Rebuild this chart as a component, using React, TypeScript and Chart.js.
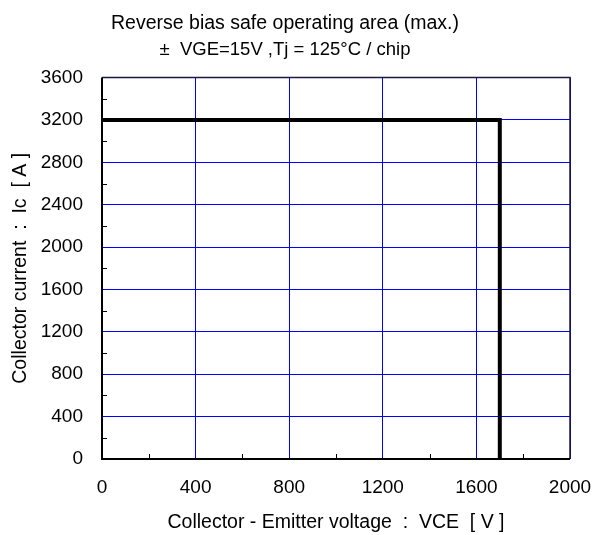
import React, { useEffect, useRef } from "react";
import { Chart, registerables } from "chart.js";

Chart.register(...registerables);

// Data
const vceValues = [0, 1700, 1700];
const icValues = [3200, 3200, 0];
const xTickLabels = [0, 400, 800, 1200, 1600, 2000];
const yTickLabels = [0, 400, 800, 1200, 1600, 2000, 2400, 2800, 3200, 3600];
const xMinorTicks = [200, 600, 1000, 1400, 1800];
const yMinorTicks = [200, 600, 1000, 1400, 1800, 2200, 2600, 3000, 3400];

const titleText = "Reverse bias safe operating area (max.)";
const subtitleText = "±  VGE=15V ,Tj = 125°C / chip";
const xTitle = "Collector - Emitter voltage  :  VCE  [ V ]";
const yTitle = "Collector current  :  Ic  [ A ]";

const FONT = "Arial, 'Liberation Sans', sans-serif";
const GRID_BLUE = "#0000ff";

const framePlugin = {
  id: "frame",
  afterDatasetsDraw(chart: any) {
    const { ctx, chartArea, scales } = chart;
    const { left, right, top, bottom } = chartArea;
    ctx.save();
    // minor ticks (inside)
    ctx.strokeStyle = "#000";
    ctx.lineWidth = 1;
    ctx.beginPath();
    for (const v of xMinorTicks) {
      const x = Math.round(scales.x.getPixelForValue(v)) + 0.5;
      ctx.moveTo(x, bottom);
      ctx.lineTo(x, bottom - 5);
    }
    for (const v of yMinorTicks) {
      const y = Math.round(scales.y.getPixelForValue(v)) + 0.5;
      ctx.moveTo(left, y);
      ctx.lineTo(left + 5, y);
    }
    ctx.stroke();
    // frame: top & right
    ctx.strokeStyle = "#1a1a40";
    ctx.lineWidth = 1.5;
    ctx.beginPath();
    ctx.moveTo(left, top);
    ctx.lineTo(right, top);
    ctx.lineTo(right, bottom);
    ctx.stroke();
    // left & bottom
    ctx.strokeStyle = "#000";
    ctx.lineWidth = 2;
    ctx.beginPath();
    ctx.moveTo(left, top);
    ctx.lineTo(left, bottom);
    ctx.lineTo(right, bottom);
    ctx.stroke();
    ctx.restore();
  },
};

export default function App() {
  const canvasRef = useRef<HTMLCanvasElement | null>(null);

  useEffect(() => {
    if (!canvasRef.current) return;
    const chart = new Chart(canvasRef.current, {
      type: "line",
      data: {
        datasets: [
          {
            data: vceValues.map((x, i) => ({ x, y: icValues[i] })),
            borderColor: "#000",
            borderWidth: 4,
            pointRadius: 0,
            fill: false,
            tension: 0,
            borderCapStyle: "butt",
            borderJoinStyle: "miter",
          },
        ],
      },
      options: {
        animation: false,
        responsive: false,
        maintainAspectRatio: false,
        layout: { padding: { left: 0, right: 40, top: 0, bottom: 0 } },
        plugins: {
          legend: { display: false },
          tooltip: { enabled: false },
          title: {
            display: true,
            text: titleText,
            color: "#000",
            font: { family: FONT, size: 19.5, weight: "normal" },
            padding: { top: 11.5, bottom: 4 },
          },
          subtitle: {
            display: true,
            text: subtitleText,
            color: "#000",
            font: { family: FONT, size: 18.5, weight: "normal" },
            padding: { top: 0, bottom: 16.5 },
          },
        },
        scales: {
          x: {
            type: "linear",
            min: 0,
            max: 2000,
            afterBuildTicks: (scale: any) => {
              scale.ticks = xTickLabels.map((v) => ({ value: v }));
            },
            afterFit: (scale: any) => {
              scale.height = 76;
            },
            ticks: {
              color: "#000",
              font: { family: FONT, size: 19 },
              padding: 17,
              maxRotation: 0,
              autoSkip: false,
              callback: (v: any) => String(v),
            },
            grid: {
              color: GRID_BLUE,
              lineWidth: 1,
              drawTicks: false,
            },
            border: { display: false },
            title: {
              display: true,
              text: xTitle,
              color: "#000",
              font: { family: FONT, size: 19.5 },
              padding: { top: 0, bottom: 1 },
            },
          },
          y: {
            type: "linear",
            min: 0,
            max: 3600,
            afterBuildTicks: (scale: any) => {
              scale.ticks = yTickLabels.map((v) => ({ value: v }));
            },
            afterFit: (scale: any) => {
              scale.width = 102;
            },
            ticks: {
              color: "#000",
              font: { family: FONT, size: 19 },
              padding: 19,
              autoSkip: false,
              callback: (v: any) => String(v),
            },
            grid: {
              color: GRID_BLUE,
              lineWidth: 1,
              drawTicks: false,
            },
            border: { display: false },
            title: {
              display: true,
              text: yTitle,
              color: "#000",
              font: { family: FONT, size: 19.5 },
              padding: { top: 9, bottom: 0 },
            },
          },
        },
      },
      plugins: [framePlugin],
    } as any);
    return () => chart.destroy();
  }, []);

  return (
    <div
      style={{
        position: "fixed",
        left: 0,
        top: 0,
        width: 610,
        height: 535,
        background: "#fff",
      }}
    >
      <canvas ref={canvasRef} width={610} height={535} />
    </div>
  );
}
